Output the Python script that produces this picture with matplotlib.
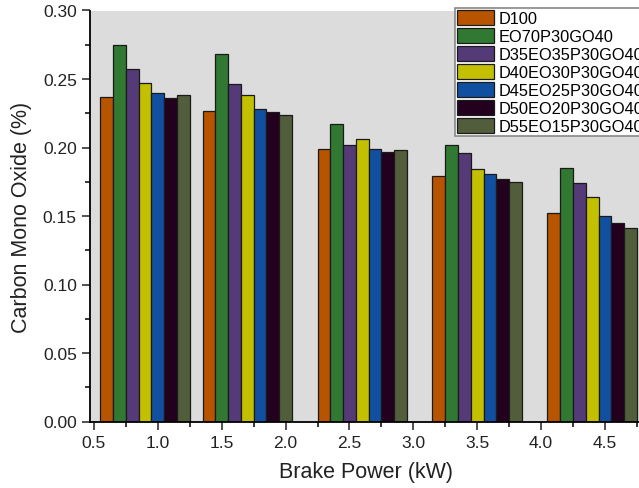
import numpy as np
import matplotlib.pyplot as plt
from matplotlib.ticker import MultipleLocator, FormatStrFormatter

plt.rcParams['font.family'] = ['Liberation Sans', 'DejaVu Sans']

# brake power groups (kW)
power = [0.9, 1.7, 2.6, 3.5, 4.4]

blends = ['D100', 'EO70P30GO40', 'D35EO35P30GO40', 'D40EO30P30GO40',
          'D45EO25P30GO40', 'D50EO20P30GO40', 'D55EO15P30GO40']

# CO emission (%) per blend at each load
d100 = [0.237, 0.227, 0.199, 0.179, 0.152]
eo70 = [0.275, 0.268, 0.217, 0.202, 0.185]
d35 = [0.257, 0.246, 0.202, 0.196, 0.174]
d40 = [0.247, 0.238, 0.206, 0.184, 0.164]
d45 = [0.240, 0.228, 0.199, 0.181, 0.150]
d50 = [0.236, 0.226, 0.197, 0.177, 0.145]
d55 = [0.238, 0.224, 0.198, 0.175, 0.141]
series = [d100, eo70, d35, d40, d45, d50, d55]

colors = ['#B85300', '#317832', '#553A78', '#C2C000', '#1150A0', '#22001E', '#525D3B']

fig = plt.figure(figsize=(6.39, 4.89), dpi=100)
W, H = 639, 489
ax = fig.add_axes([90 / W, (H - 422.5) / H, 552 / W, 411 / H])
ax.set_facecolor('#DCDCDC')

bw = 0.1
x = np.array(power)
for i, (vals, c) in enumerate(zip(series, colors)):
    ax.bar(x + (i - 3) * bw, vals, width=bw, color=c, edgecolor='#1a1a1a',
           linewidth=0.9, label=blends[i], zorder=2)

ax.set_xlim(0.469, 4.79)
ax.set_ylim(0, 0.30)
ax.xaxis.set_major_locator(MultipleLocator(0.5))
ax.xaxis.set_minor_locator(MultipleLocator(0.25))
ax.yaxis.set_major_locator(MultipleLocator(0.05))
ax.yaxis.set_minor_locator(MultipleLocator(0.025))
ax.xaxis.set_major_formatter(FormatStrFormatter('%.1f'))
ax.yaxis.set_major_formatter(FormatStrFormatter('%.2f'))
ax.tick_params(which='major', direction='out', length=6, width=1.1, labelsize=12.5, colors='#222222')
ax.tick_params(which='minor', direction='out', length=3.5, width=1.1)

for s in ['top', 'right']:
    ax.spines[s].set_visible(False)
for s in ['left', 'bottom']:
    ax.spines[s].set_linewidth(1.3)

ax.set_xlabel('Brake Power (kW)', fontsize=15.5, color='#222222', labelpad=8)
ax.set_ylabel('Carbon Mono Oxide (%)', fontsize=15.5, color='#222222', labelpad=8)

leg = ax.legend(loc='upper left', bbox_to_anchor=(455 / W, 1 - 9 / H),
                bbox_transform=fig.transFigure, fontsize=11.8, frameon=True,
                fancybox=False, edgecolor='#888888', facecolor='white', framealpha=1,
                handlelength=2.2, handleheight=1.0, labelspacing=0.12,
                handletextpad=0.3, borderpad=0.15, borderaxespad=0)
leg.get_frame().set_linewidth(1.2)

fig.savefig('out.png', dpi=100)
